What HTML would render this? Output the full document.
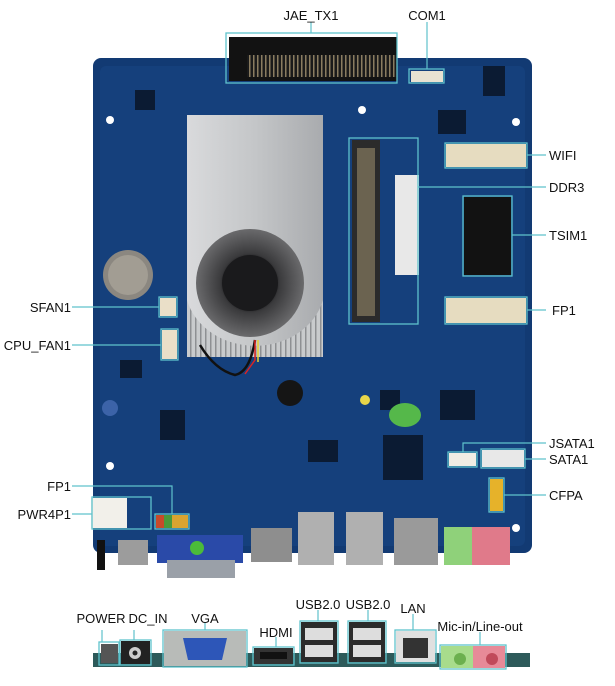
<!DOCTYPE html>
<html><head><meta charset="utf-8"><style>
html,body{margin:0;padding:0;background:#fff;}
svg{display:block;}
text{font-family:"Liberation Sans",Arial,sans-serif;font-size:13px;fill:#111;}
</style></head><body>
<svg width="615" height="686" viewBox="0 0 615 686" xmlns="http://www.w3.org/2000/svg">
<defs>
<radialGradient id="fan" cx="0.5" cy="0.5" r="0.5"><stop offset="0.45" stop-color="#1c1c1e"/><stop offset="0.55" stop-color="#3a3a3c"/><stop offset="1" stop-color="#6a6a6c"/></radialGradient>
<linearGradient id="hs" x1="0" x2="1"><stop offset="0" stop-color="#d9dadc"/><stop offset="0.5" stop-color="#c4c6c8"/><stop offset="1" stop-color="#a9abae"/></linearGradient>
<pattern id="fins" width="5" height="10" patternUnits="userSpaceOnUse"><rect width="5" height="10" fill="#c9cbcd"/><rect width="1.5" height="10" fill="#8e9093"/></pattern>
<pattern id="pins" width="4" height="10" patternUnits="userSpaceOnUse"><rect width="4" height="10" fill="#1a1a1a"/><rect x="1" width="1.5" height="10" fill="#8a7c60"/></pattern>
</defs>

<!-- board -->
<rect x="93" y="58" width="439" height="495" rx="8" fill="#123a73"/>
<rect x="100" y="66" width="425" height="480" rx="6" fill="#15407c"/>
<!-- misc chip clutter -->
<g fill="#0b1b33">
<rect x="135" y="90" width="20" height="20"/><rect x="440" y="390" width="35" height="30"/><rect x="383" y="435" width="40" height="45"/>
<rect x="308" y="440" width="30" height="22"/><rect x="120" y="360" width="22" height="18"/><rect x="160" y="410" width="25" height="30"/>
<rect x="438" y="110" width="28" height="24"/><rect x="483" y="66" width="22" height="30"/><rect x="380" y="390" width="20" height="20"/>
</g>
<circle cx="290" cy="393" r="13" fill="#151515"/>
<circle cx="365" cy="400" r="5" fill="#e8d64a"/>
<ellipse cx="405" cy="415" rx="16" ry="12" fill="#55b84a"/>
<circle cx="128" cy="275" r="25" fill="#8b8780"/><circle cx="128" cy="275" r="20" fill="#a29d93"/>
<circle cx="110" cy="408" r="8" fill="#3c63a8"/>
<g fill="#fff"><circle cx="110" cy="120" r="4"/><circle cx="362" cy="110" r="4"/><circle cx="516" cy="122" r="4"/><circle cx="110" cy="466" r="4"/><circle cx="516" cy="528" r="4"/></g>
<!-- JAE connector -->
<rect x="229" y="37" width="168" height="44" fill="#121212"/>
<rect x="247" y="55" width="150" height="22" fill="url(#pins)"/>
<rect x="226" y="33" width="171" height="50" fill="none" stroke="#5fc2cc" stroke-width="1.3"/>
<rect x="411" y="71" width="32" height="11" fill="#e9e2d2"/>
<rect x="409" y="69" width="35" height="14" fill="none" stroke="#5fc2cc" stroke-width="1.3"/>
<!-- heatsink -->
<rect x="187" y="260" width="136" height="97" fill="url(#fins)"/>
<path d="M187 115 H323 V300 A70 60 0 0 1 187 300 Z" fill="url(#hs)"/>
<circle cx="250" cy="283" r="54" fill="url(#fan)"/>
<circle cx="250" cy="283" r="28" fill="#1a1a1c"/>
<path d="M200 345 Q215 370 235 375 Q250 372 255 340" fill="none" stroke="#111" stroke-width="2.5"/>
<path d="M255 340 L255 360 L245 374" fill="none" stroke="#d22" stroke-width="1.5"/>
<path d="M258 340 L258 362" fill="none" stroke="#e8d030" stroke-width="1.5"/>
<!-- DDR3 slot -->
<rect x="352" y="140" width="28" height="182" fill="#2b2b2b"/>
<rect x="357" y="148" width="18" height="168" fill="#6b6350"/>
<rect x="395" y="175" width="24" height="100" fill="#e8e8e8"/>
<rect x="349" y="138" width="69" height="186" fill="none" stroke="#5fc2cc" stroke-width="1.3"/>
<!-- wifi / fp1 slots -->
<rect x="446" y="144" width="80" height="23" fill="#e6dcc0"/>
<rect x="445" y="143" width="82" height="25" fill="none" stroke="#5fc2cc" stroke-width="1.3"/>
<rect x="446" y="298" width="80" height="25" fill="#e6dcc0"/>
<rect x="445" y="297" width="82" height="27" fill="none" stroke="#5fc2cc" stroke-width="1.3"/>
<!-- sim -->
<rect x="464" y="197" width="47" height="78" fill="#121212"/>
<rect x="463" y="196" width="49" height="80" fill="none" stroke="#5fc2cc" stroke-width="1.3"/>
<!-- fans headers -->
<rect x="160" y="298" width="16" height="18" fill="#eadfc8"/>
<rect x="159" y="297" width="18" height="20" fill="none" stroke="#5fc2cc" stroke-width="1.3"/>
<rect x="162" y="330" width="15" height="29" fill="#eadfc8"/>
<rect x="161" y="329" width="17" height="31" fill="none" stroke="#5fc2cc" stroke-width="1.3"/>
<!-- sata etc -->
<rect x="449" y="453" width="27" height="13" fill="#f0ece4"/>
<rect x="448" y="452" width="29" height="15" fill="none" stroke="#5fc2cc" stroke-width="1.3"/>
<rect x="482" y="450" width="42" height="17" fill="#e8e8e8"/>
<rect x="481" y="449" width="44" height="19" fill="none" stroke="#5fc2cc" stroke-width="1.3"/>
<rect x="490" y="479" width="13" height="32" fill="#e6b22a"/>
<rect x="489" y="478" width="15" height="34" fill="none" stroke="#5fc2cc" stroke-width="1.3"/>
<!-- pwr4p1 / fp1 left -->
<rect x="91" y="498" width="36" height="30" fill="#f2f0ea"/>
<rect x="92" y="497" width="59" height="32" fill="none" stroke="#5fc2cc" stroke-width="1.3"/>
<rect x="156" y="515" width="32" height="13" fill="#d9a430"/><rect x="156" y="515" width="8" height="13" fill="#c74a2a"/><rect x="164" y="515" width="8" height="13" fill="#4a9a3a"/>
<rect x="155" y="514" width="34" height="15" fill="none" stroke="#5fc2cc" stroke-width="1.3"/>
<!-- board edge connectors -->
<rect x="97" y="540" width="8" height="30" fill="#111"/>
<rect x="118" y="540" width="30" height="25" fill="#9c9c9c"/>
<rect x="157" y="535" width="86" height="28" fill="#2a4aa8"/>
<rect x="167" y="560" width="68" height="18" fill="#9aa0a8"/>
<circle cx="197" cy="548" r="7" fill="#4bbb3a"/>
<rect x="251" y="528" width="41" height="34" fill="#8e8e8e"/>
<rect x="298" y="512" width="36" height="53" fill="#b0b0b0"/>
<rect x="346" y="512" width="37" height="53" fill="#b0b0b0"/>
<rect x="394" y="518" width="44" height="47" fill="#9a9a9a"/>
<rect x="444" y="527" width="33" height="38" fill="#8fd17a"/>
<rect x="472" y="527" width="38" height="38" fill="#e07a8a"/>

<!-- bottom I/O panel -->
<rect x="93" y="653" width="437" height="14" fill="#2d5a5a"/>
<rect x="101" y="644" width="17" height="19" fill="#555"/>
<rect x="121" y="641" width="29" height="23" fill="#222"/><circle cx="135" cy="653" r="6" fill="#ccc"/><circle cx="135" cy="653" r="2.5" fill="#222"/>
<rect x="164" y="631" width="82" height="35" fill="#b8bbb8"/><path d="M183 638 H227 L222 660 H188 Z" fill="#2d56b8"/>
<rect x="254" y="648" width="39" height="16" fill="#333"/><rect x="260" y="652" width="27" height="7" fill="#111"/>
<rect x="301" y="622" width="36" height="40" fill="#2b2b2b"/><rect x="305" y="628" width="28" height="12" fill="#ddd"/><rect x="305" y="645" width="28" height="12" fill="#ddd"/>
<rect x="349" y="622" width="36" height="40" fill="#2b2b2b"/><rect x="353" y="628" width="28" height="12" fill="#ddd"/><rect x="353" y="645" width="28" height="12" fill="#ddd"/>
<rect x="396" y="631" width="39" height="31" fill="#e0e0e0"/><rect x="403" y="638" width="25" height="20" fill="#333"/>
<rect x="441" y="646" width="32" height="22" fill="#a8dc8c"/><circle cx="460" cy="659" r="6" fill="#6cb04f"/>
<rect x="473" y="646" width="32" height="22" fill="#e78a98"/><circle cx="492" cy="659" r="6" fill="#c04a5a"/>
<g fill="none" stroke="#5fc2cc" stroke-width="1.3">
<rect x="99" y="642" width="20" height="23"/><rect x="120" y="640" width="31" height="25"/>
<rect x="163" y="630" width="84" height="37"/><rect x="253" y="647" width="41" height="18"/>
<rect x="300" y="621" width="38" height="42"/><rect x="348" y="621" width="38" height="42"/>
<rect x="395" y="630" width="41" height="33"/><rect x="440" y="645" width="66" height="24"/>
</g>

<!-- leader lines -->
<g fill="none" stroke="#5fc2cc" stroke-width="1.2">
<path d="M311 22 V33"/><path d="M427 22 V69"/>
<path d="M527 155 H546"/><path d="M418 187 H546"/><path d="M512 235 H546"/><path d="M527 310 H546"/>
<path d="M463 452 V443 H546"/><path d="M525 459 H546"/><path d="M504 495 H546"/>
<path d="M72 307 H159"/><path d="M72 345 H161"/>
<path d="M72 486 H172 V514"/><path d="M72 514 H92"/>
<path d="M102 630 V642"/><path d="M134 630 V640"/><path d="M205 623 V630"/><path d="M276 637 V647"/>
<path d="M318 610 V621"/><path d="M368 610 V621"/><path d="M413 614 V630"/><path d="M480 632 V645"/>
</g>

<!-- labels -->
<text x="311" y="20" text-anchor="middle">JAE_TX1</text>
<text x="427" y="20" text-anchor="middle">COM1</text>
<text x="549" y="160">WIFI</text>
<text x="549" y="192">DDR3</text>
<text x="549" y="240">TSIM1</text>
<text x="552" y="315">FP1</text>
<text x="549" y="448">JSATA1</text>
<text x="549" y="464">SATA1</text>
<text x="549" y="500">CFPA</text>
<text x="71" y="312" text-anchor="end">SFAN1</text>
<text x="71" y="350" text-anchor="end">CPU_FAN1</text>
<text x="71" y="491" text-anchor="end">FP1</text>
<text x="71" y="519" text-anchor="end">PWR4P1</text>
<text x="101" y="623" text-anchor="middle">POWER</text>
<text x="148" y="623" text-anchor="middle">DC_IN</text>
<text x="205" y="623" text-anchor="middle">VGA</text>
<text x="276" y="637" text-anchor="middle">HDMI</text>
<text x="318" y="609" text-anchor="middle">USB2.0</text>
<text x="368" y="609" text-anchor="middle">USB2.0</text>
<text x="413" y="613" text-anchor="middle">LAN</text>
<text x="480" y="631" text-anchor="middle">Mic-in/Line-out</text>
</svg>
</body></html>
